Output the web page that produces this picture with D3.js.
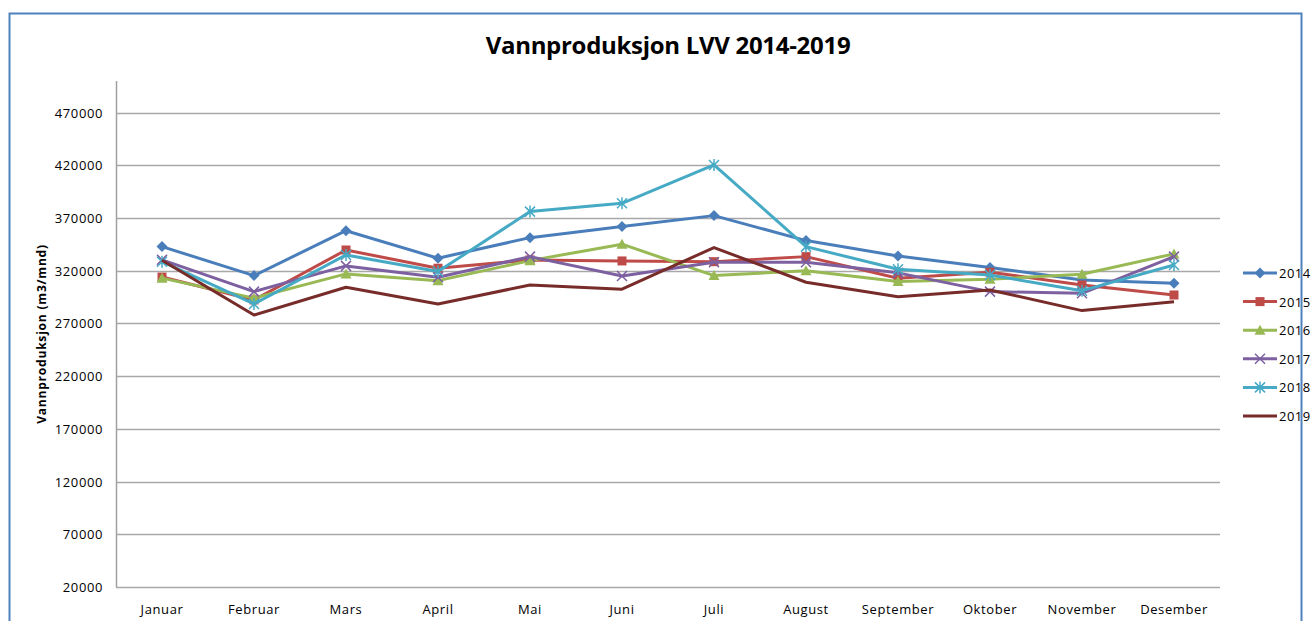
<!DOCTYPE html>
<html>
<head>
<meta charset="utf-8">
<script src="https://cdn.jsdelivr.net/npm/d3@7"></script>
<style>
  body { margin: 0; background: #fff; }
  text { font-family: "Open Sans", "Liberation Sans", sans-serif; fill: #000; }
</style>
</head>
<body>
<div id="chart"></div>
<script>
// Data
const months = ["Januar", "Februar", "Mars", "April", "Mai", "Juni", "Juli", "August", "September", "Oktober", "November", "Desember"];
const years = ["2014", "2015", "2016", "2017", "2018", "2019"];
const v2014 = [342900, 315400, 358000, 331900, 351400, 361900, 372300, 348600, 334000, 323000, 311300, 308100];
const v2015 = [314000, 292300, 339700, 322400, 330300, 329300, 328600, 333400, 312900, 318600, 306500, 297000];
const v2016 = [313000, 294000, 317000, 310600, 329600, 345200, 315400, 320100, 309700, 312000, 316700, 336000];
const v2017 = [330300, 300200, 324600, 313800, 333400, 315100, 328000, 328000, 318000, 300200, 298600, 333400];
const v2018 = [328600, 288500, 335000, 319200, 376100, 384000, 420400, 342900, 321400, 316000, 301100, 325500];
const v2019 = [330000, 278000, 304400, 288500, 306500, 302500, 342000, 309100, 295400, 301800, 282200, 290700];
const yTicks = [20000, 70000, 120000, 170000, 220000, 270000, 320000, 370000, 420000, 470000];

const seriesValues = [v2014, v2015, v2016, v2017, v2018, v2019];
const colors = ["#4a7ebb", "#be4b48", "#98b954", "#7d60a0", "#46aac5", "#772c2a"];
const markers = ["diamond", "square", "triangle", "cross", "star", "none"];

const width = 1315, height = 621;
const margin = { top: 81, left: 116, right: 95, bottom: 34 };

const svg = d3.select("#chart").append("svg")
    .attr("width", width)
    .attr("height", height);

// Outer frame
svg.append("rect")
    .attr("x", 9.5).attr("y", 13.5)
    .attr("width", 1292).attr("height", 640)
    .attr("fill", "none")
    .attr("stroke", "#4f81bd")
    .attr("stroke-width", 2);

// Scales
const x = d3.scaleBand()
    .domain(months)
    .range([margin.left, width - margin.right]);

const y = d3.scaleLinear()
    .domain([20000, 500000])
    .range([height - margin.bottom, margin.top]);

// Title
svg.append("text")
    .attr("x", 668).attr("y", 54)
    .attr("text-anchor", "middle")
    .style("font-size", "24px")
    .style("font-weight", "bold")
    .style("letter-spacing", "-0.3px")
    .text("Vannproduksjon LVV 2014-2019");

// Gridlines
svg.append("g")
    .selectAll("line")
    .data(yTicks)
    .join("line")
    .attr("x1", margin.left).attr("x2", width - margin.right)
    .attr("y1", d => Math.round(y(d)) + 0.5).attr("y2", d => Math.round(y(d)) + 0.5)
    .attr("stroke", "#a8a8a8")
    .attr("stroke-width", 1.5);

// Y axis line
svg.append("line")
    .attr("x1", margin.left + 0.5).attr("x2", margin.left + 0.5)
    .attr("y1", margin.top).attr("y2", y(20000))
    .attr("stroke", "#a0a0a0")
    .attr("stroke-width", 1.5);

// Y tick labels
svg.append("g")
    .selectAll("text")
    .data(yTicks)
    .join("text")
    .attr("x", 103)
    .attr("y", d => y(d) + 5)
    .attr("text-anchor", "end")
    .style("font-size", "13px")
    .style("letter-spacing", "0.6px")
    .text(d => d);

// Y axis title
svg.append("text")
    .attr("transform", `translate(46, ${(margin.top + y(20000)) / 2}) rotate(-90)`)
    .attr("text-anchor", "middle")
    .style("font-size", "12px")
    .style("font-weight", "bold")
    .style("letter-spacing", "0.8px")
    .text("Vannproduksjon  (m3/mnd)");

// X labels
svg.append("g")
    .selectAll("text")
    .data(months)
    .join("text")
    .attr("x", d => x(d) + x.bandwidth() / 2)
    .attr("y", 614)
    .attr("text-anchor", "middle")
    .style("font-size", "13px")
    .style("letter-spacing", "0.6px")
    .text(d => d);

// Marker drawing
const drawMarker = (g, type, color) => {
    if (type === "diamond") {
        g.append("path").attr("d", "M0,-5.5L5.5,0L0,5.5L-5.5,0Z").attr("fill", color);
    } else if (type === "square") {
        g.append("rect").attr("x", -4.5).attr("y", -4.5).attr("width", 9).attr("height", 9).attr("fill", color);
    } else if (type === "triangle") {
        g.append("path").attr("d", "M0,-5.5L5.5,4.5L-5.5,4.5Z").attr("fill", color);
    } else if (type === "cross") {
        g.append("path").attr("d", "M-5,-5L5,5M-5,5L5,-5").attr("stroke", color).attr("stroke-width", 1.5);
    } else if (type === "star") {
        g.append("path").attr("d", "M-5,-5L5,5M-5,5L5,-5M0,-6L0,6").attr("stroke", color).attr("stroke-width", 1.5);
    }
};

const line = d3.line()
    .x((d, i) => x(months[i]) + x.bandwidth() / 2)
    .y(d => y(d));

// Series
seriesValues.forEach((vals, s) => {
    const g = svg.append("g");
    g.append("path")
        .datum(vals)
        .attr("d", line)
        .attr("fill", "none")
        .attr("stroke", colors[s])
        .attr("stroke-width", 3)
        .attr("stroke-linejoin", "round");
    vals.forEach((v, i) => {
        const m = g.append("g")
            .attr("transform", `translate(${x(months[i]) + x.bandwidth() / 2},${y(v)})`);
        drawMarker(m, markers[s], colors[s]);
    });
});

// Legend
const legend = svg.append("g").attr("id", "legend");
years.forEach((yr, i) => {
    const ly = 273 + i * 28.6;
    legend.append("line")
        .attr("x1", 1243).attr("x2", 1277)
        .attr("y1", ly).attr("y2", ly)
        .attr("stroke", colors[i])
        .attr("stroke-width", 3);
    const m = legend.append("g").attr("transform", `translate(1260,${ly})`);
    drawMarker(m, markers[i], colors[i]);
    legend.append("text")
        .attr("x", 1279).attr("y", ly + 5)
        .style("font-size", "13px")
        .style("letter-spacing", "0.5px")
        .text(yr);
});
</script>
</body>
</html>
